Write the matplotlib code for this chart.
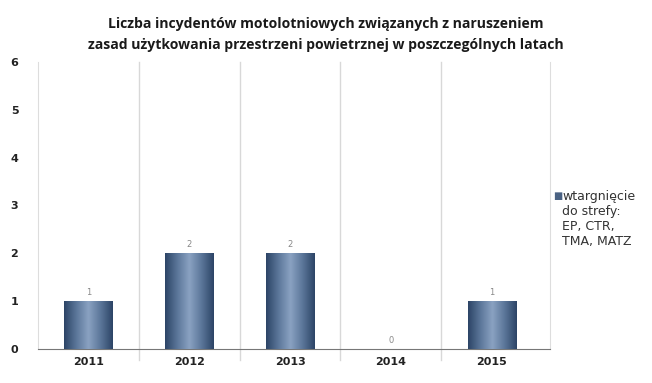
import numpy as np
import matplotlib.pyplot as plt
from matplotlib.colors import LinearSegmentedColormap

years = ["2011", "2012", "2013", "2014", "2015"]
counts = [1, 2, 2, 0, 1]
series_name = "wtargnięcie\ndo strefy:\nEP, CTR,\nTMA, MATZ"
title = ("Liczba incydentów motolotniowych związanych z naruszeniem\n"
         "zasad użytkowania przestrzeni powietrznej w poszczególnych latach")

fig = plt.figure(figsize=(6.52, 3.83), dpi=100)
ax = fig.add_axes([0.058, 0.089, 0.786, 0.749])

x = np.arange(len(years))
bars = ax.bar(x, counts, width=0.48, color="#4a6283", zorder=2)

# cylinder-like shading on each bar
cmap = LinearSegmentedColormap.from_list(
    "cyl", ["#2c4466", "#5b7699", "#8aa2c2", "#5b7699", "#2c4466"])
grad = np.linspace(0, 1, 256).reshape(1, -1)
for b in bars:
    if b.get_height() <= 0:
        continue
    x0, w, h = b.get_x(), b.get_width(), b.get_height()
    im = ax.imshow(grad, cmap=cmap, aspect="auto",
                   extent=(x0, x0 + w, 0, h), zorder=3)
    im.set_clip_path(b)

for xi, c in zip(x, counts):
    ax.text(xi, c + 0.08, str(c), ha="center", va="bottom",
            fontsize=6, color="#888888")

ax.set_xlim(-0.5, len(years) - 0.42)
ax.set_ylim(0, 6)
ax.set_xticks(x)
ax.set_xticklabels(years, fontsize=8, fontweight="bold", color="#222222")
ax.set_yticks(range(0, 7))
ax.set_yticklabels([str(v) for v in range(0, 7)], fontsize=8,
                   fontweight="bold", color="#222222")
ax.tick_params(axis="x", length=0, pad=6)
ax.tick_params(axis="y", length=0, pad=14)

for bx in np.arange(0.5, len(years) - 1, 1.0):
    ax.axvline(bx, ymin=-0.04, ymax=1, color="#d8d8d8", lw=1, zorder=1,
               clip_on=False)
ax.spines["top"].set_visible(False)
ax.spines["left"].set_color("#dddddd")
ax.spines["right"].set_color("#dddddd")
ax.spines["bottom"].set_color("#777777")

fig.suptitle(title, fontsize=10.1, family="Open Sans", fontweight="bold",
             y=0.955, color="#1a1a1a", linespacing=1.6)

fig.text(0.848, 0.50, "■", fontsize=7, color="#4a6283", va="top")
fig.text(0.862, 0.505, series_name, fontsize=9, color="#333333",
         va="top", linespacing=1.2)

fig.savefig("out.png", dpi=100)
